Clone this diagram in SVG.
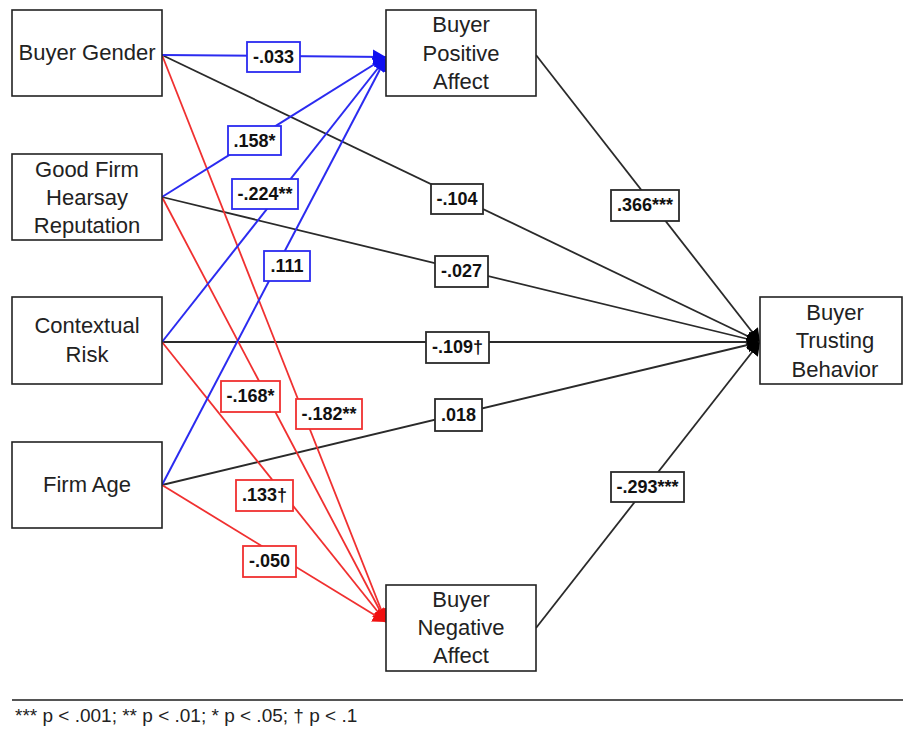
<svg xmlns="http://www.w3.org/2000/svg" width="903" height="730" viewBox="0 0 903 730">
<style>
.node rect{fill:#fff;stroke:#222;stroke-width:1.6}
.node text{font-family:"Liberation Sans",Arial,sans-serif;font-size:22px;fill:#222;text-anchor:middle}
.lb rect{fill:#fff;stroke-width:1.8}
.lb text{font-family:"Liberation Sans",Arial,sans-serif;font-size:18px;font-weight:bold;fill:#111;text-anchor:middle}
.b line{stroke:#2b2bf0;stroke-width:2;fill:none}
.r line{stroke:#f03030;stroke-width:1.8;fill:none}
.k line{stroke:#2a2a2a;stroke-width:1.8;fill:none}
.lb.bl rect{stroke:#2b2bf0}
.lb.rd rect{stroke:#f03030}
.lb.bk rect{stroke:#2a2a2a}
</style>
<defs>
<marker id="ab" markerUnits="userSpaceOnUse" markerWidth="14" markerHeight="16" refX="13" refY="7.5" orient="auto"><path d="M0,0 L13,7.5 L0,15 z" fill="#1010f0"/></marker>
<marker id="ar" markerUnits="userSpaceOnUse" markerWidth="14" markerHeight="16" refX="13" refY="7.5" orient="auto"><path d="M0,0 L13,7.5 L0,15 z" fill="#f01010"/></marker>
<marker id="ak" markerUnits="userSpaceOnUse" markerWidth="14" markerHeight="16" refX="13" refY="7.5" orient="auto"><path d="M0,0 L13,7.5 L0,15 z" fill="#000"/></marker>
</defs>
<g id="connectors">
<g class="k">
<line x1="162" y1="55" x2="760" y2="342" marker-end="url(#ak)"/>
<line x1="162" y1="197" x2="760" y2="342" marker-end="url(#ak)"/>
<line x1="162" y1="342" x2="760" y2="342" marker-end="url(#ak)"/>
<line x1="162" y1="485" x2="760" y2="342" marker-end="url(#ak)"/>
<line x1="536" y1="55" x2="760" y2="342" marker-end="url(#ak)"/>
<line x1="536" y1="628" x2="760" y2="342" marker-end="url(#ak)"/>
</g>
<g class="r">
<line x1="162" y1="55" x2="386" y2="622" marker-end="url(#ar)"/>
<line x1="162" y1="197" x2="386" y2="622" marker-end="url(#ar)"/>
<line x1="162" y1="342" x2="386" y2="622" marker-end="url(#ar)"/>
<line x1="162" y1="485" x2="386" y2="622" marker-end="url(#ar)"/>
</g>
<g class="b">
<line x1="162" y1="55" x2="386" y2="57" marker-end="url(#ab)"/>
<line x1="162" y1="197" x2="386" y2="57" marker-end="url(#ab)"/>
<line x1="162" y1="342" x2="386" y2="58" marker-end="url(#ab)"/>
<line x1="162" y1="485" x2="386" y2="58" marker-end="url(#ab)"/>
</g>
<g id="labels">
<g class="lb bl"><rect x="247" y="42" width="53" height="30"/><text x="273.5" y="63">-.033</text></g>
<g class="lb bl"><rect x="228" y="126" width="53" height="29"/><text x="254.5" y="147">.158*</text></g>
<g class="lb bl"><rect x="232" y="179" width="66" height="30"/><text x="265" y="200">-.224**</text></g>
<g class="lb bl"><rect x="264" y="251" width="46" height="30"/><text x="287" y="272">.111</text></g>
<g class="lb rd"><rect x="221" y="381" width="59" height="31"/><text x="250.5" y="402">-.168*</text></g>
<g class="lb rd"><rect x="296" y="399" width="66" height="30"/><text x="329" y="420">-.182**</text></g>
<g class="lb rd"><rect x="236" y="480" width="57" height="31"/><text x="264.5" y="501">.133†</text></g>
<g class="lb rd"><rect x="243" y="546" width="53" height="31"/><text x="269.5" y="567">-.050</text></g>
<g class="lb bk"><rect x="431" y="184" width="52" height="30"/><text x="457" y="205">-.104</text></g>
<g class="lb bk"><rect x="435" y="256" width="53" height="31"/><text x="461.5" y="277">-.027</text></g>
<g class="lb bk"><rect x="426" y="332" width="63" height="31"/><text x="457.5" y="353">-.109†</text></g>
<g class="lb bk"><rect x="435" y="399" width="47" height="32"/><text x="458.5" y="421">.018</text></g>
<g class="lb bk"><rect x="611" y="190" width="68" height="31"/><text x="645" y="211">.366***</text></g>
<g class="lb bk"><rect x="611" y="472" width="73" height="30"/><text x="647.5" y="493">-.293***</text></g>
</g>
</g>
<g id="buyer-gender" class="node"><rect x="12" y="10" width="150" height="86"/><text x="87" y="60">Buyer Gender</text></g>
<g id="good-firm" class="node"><rect x="12" y="154" width="150" height="86"/><text x="87" y="177">Good Firm</text><text x="87" y="205">Hearsay</text><text x="87" y="233">Reputation</text></g>
<g id="contextual-risk" class="node"><rect x="12" y="297" width="150" height="87"/><text x="87" y="333">Contextual</text><text x="87" y="362">Risk</text></g>
<g id="firm-age" class="node"><rect x="12" y="442" width="150" height="86"/><text x="87" y="492">Firm Age</text></g>
<g id="positive-affect" class="node"><rect x="386" y="10" width="150" height="86"/><text x="461" y="32">Buyer</text><text x="461" y="61">Positive</text><text x="461" y="89">Affect</text></g>
<g id="negative-affect" class="node"><rect x="386" y="585" width="150" height="86"/><text x="461" y="607">Buyer</text><text x="461" y="635">Negative</text><text x="461" y="663">Affect</text></g>
<g id="trusting-behavior" class="node"><rect x="760" y="297" width="142" height="87"/><text x="835" y="320">Buyer</text><text x="835" y="348">Trusting</text><text x="835" y="377">Behavior</text></g>
<line x1="12" y1="700" x2="903" y2="700" stroke="#555" stroke-width="2"/>
<text x="15" y="722" font-family="'Liberation Sans',Arial,sans-serif" font-size="19" fill="#222">*** p &lt; .001; ** p &lt; .01; * p &lt; .05; † p &lt; .1</text>
</svg>
